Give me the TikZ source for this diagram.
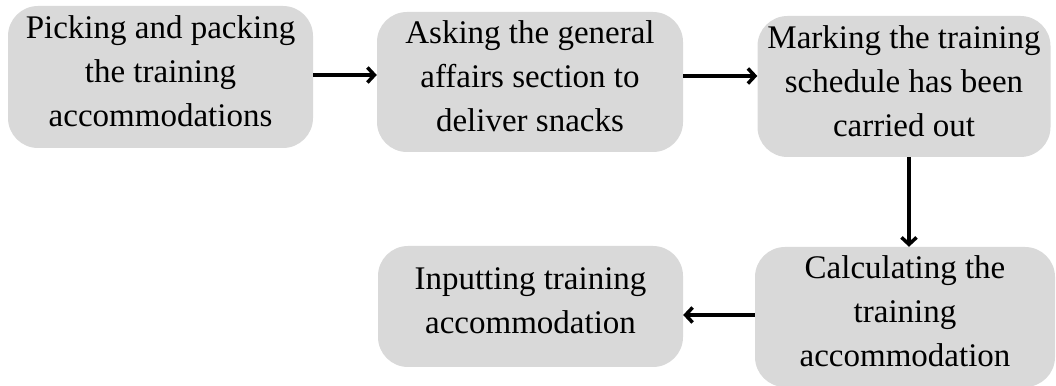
\documentclass[tikz,border=0pt]{standalone}
\usepackage{fontspec}
\setmainfont{Liberation Serif}
\usetikzlibrary{arrows.meta}
\definecolor{boxGray}{HTML}{D9D9D9}

\begin{document}
\begin{tikzpicture}[x = 1pt, y = 1pt, font = \fontsize{33}{44}\selectfont]
\tikzstyle{processStyle} = [shape = rectangle, rounded corners = 30pt, fill = boxGray, align = center, inner sep = 0pt,
  execute at end node = {\rule[-11pt]{0pt}{11pt}}]
\tikzstyle{arrowStyle} = [line width = 3.5pt, -{Straight Barb[length = 7pt, width = 15pt, line width = 3.5pt]}]
\useasboundingbox (0,0) rectangle (1056,385);
% top row
\node[processStyle, minimum width = 305pt, minimum height = 142pt] (pack) at (160.5,308) {Picking and packing\\the training\\accommodations};
\node[processStyle, minimum width = 306pt, minimum height = 140pt] (snack) at (530,303) {Asking the general\\affairs section to\\deliver snacks};
\node[processStyle, minimum width = 293pt, minimum height = 141pt] (mark) at (904,298.5) {Marking the training\\schedule has been\\carried out};
% bottom row
\node[processStyle, minimum width = 300pt, minimum height = 140pt] (calc) at (905,68) {Calculating the\\training\\accommodation};
\node[processStyle, minimum width = 305pt, minimum height = 121pt] (input) at (530.5,78.5) {Inputting training\\accommodation};
% connectors
\draw[arrowStyle] ([yshift = 2pt]pack.east) -- ([yshift = 2pt]pack.east -| snack.west);
\draw[arrowStyle] ([yshift = 6pt]snack.east) -- ([yshift = 6pt]snack.east -| mark.west);
\draw[arrowStyle] ([xshift = 5pt]mark.south) -- ([xshift = 5pt]mark.south |- calc.north);
\draw[arrowStyle] ([yshift = 2pt]calc.west) -- ([yshift = 2pt]calc.west -| input.east);
\end{tikzpicture}
\end{document}
